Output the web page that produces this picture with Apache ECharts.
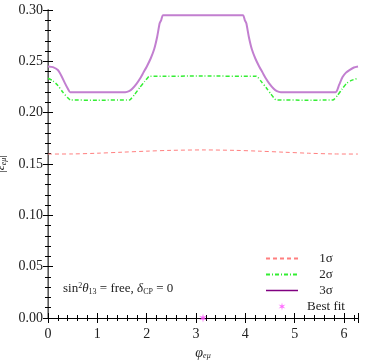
<!DOCTYPE html>
<html><head><meta charset="utf-8">
<script src="https://cdn.jsdelivr.net/npm/echarts@6/dist/echarts.min.js"></script>
<style>html,body{margin:0;padding:0;background:#fff}#c{width:382px;height:364px}</style>
</head><body><div id="c"></div>
<script>
// 1 sigma
const phi1 = [0, 0.5, 1.0, 1.5, 2.0, 2.5, 3.1416, 3.78, 4.28, 4.78, 5.28, 5.78, 6.2832];
const eps1 = [0.1597, 0.1598, 0.1605, 0.1615, 0.1625, 0.1633, 0.1637, 0.1633, 0.1625, 0.1615, 0.1605, 0.1598, 0.1597];
// 2 sigma
const phi2 = [0, 0.1, 0.2, 0.3, 0.4, 0.46, 1.0, 1.6, 1.66, 1.76, 1.86, 1.96, 2.03, 2.06, 3.14, 4.22, 4.25, 4.32, 4.42, 4.52, 4.62, 4.68, 5.2, 5.77, 5.87, 5.96, 6.05, 6.15, 6.2832];
const eps2 = [0.2335, 0.231, 0.2265, 0.220, 0.2145, 0.2123, 0.2122, 0.2123, 0.2125, 0.218, 0.2245, 0.2305, 0.2345, 0.2355, 0.2356, 0.2355, 0.2345, 0.2305, 0.2245, 0.218, 0.2125, 0.2123, 0.2122, 0.2123, 0.217, 0.223, 0.2285, 0.2315, 0.2335];
// 3 sigma
const phi3 = [0, 0.1, 0.2, 0.27, 0.34, 0.4, 0.45, 1.0, 1.563, 1.643, 1.713, 1.793, 1.863, 1.933, 2.003, 2.083, 2.153, 2.213, 2.263, 2.293, 2.333, 3.14, 3.95, 3.99, 4.02, 4.07, 4.13, 4.20, 4.28, 4.35, 4.42, 4.49, 4.57, 4.64, 4.72, 5.3, 5.83, 5.90, 5.97, 6.04, 6.11, 6.2, 6.2832];
const eps3 = [0.245, 0.2443, 0.2415, 0.236, 0.229, 0.2235, 0.220, 0.2198, 0.220, 0.221, 0.2235, 0.228, 0.233, 0.239, 0.245, 0.253, 0.262, 0.274, 0.287, 0.290, 0.295, 0.295, 0.295, 0.290, 0.287, 0.274, 0.262, 0.253, 0.245, 0.239, 0.233, 0.228, 0.2235, 0.221, 0.220, 0.2198, 0.220, 0.227, 0.2347, 0.239, 0.2415, 0.244, 0.245];
// best fit
const bestPhi = [3.1416];
const bestEps = [0.0];
const xTicks = [0, 1, 2, 3, 4, 5, 6];
const yTicks = ['0.00', '0.05', '0.10', '0.15', '0.20', '0.25', '0.30'];

const zip = (a, b) => a.map((v, i) => [v, b[i]]);
const star = 'path://M0 -10 L1.5 -2.6 L8.66 -5 L3 0 L8.66 5 L1.5 2.6 L0 10 L-1.5 2.6 L-8.66 5 L-3 0 L-8.66 -5 L-1.5 -2.6 Z';
const FONT = '"Liberation Serif", "DejaVu Serif", serif';
const TWO_PI = 2 * Math.PI;

const baseX = {
  type: 'value', min: 0, max: TWO_PI, interval: 1,
  axisLine: {show: true, lineStyle: {color: '#000', width: 1}},
  axisTick: {show: true, inside: true, length: 5, lineStyle: {color: '#000'}},
  minorTick: {show: true, splitNumber: 5, length: 3, lineStyle: {color: '#000'}},
  splitLine: {show: false}
};
const baseY = {
  type: 'value', min: 0, max: 0.3, interval: 0.05,
  axisLine: {show: true, lineStyle: {color: '#000', width: 1}},
  axisTick: {show: true, inside: true, length: 5, lineStyle: {color: '#000'}},
  minorTick: {show: true, splitNumber: 5, length: 3, lineStyle: {color: '#000'}},
  splitLine: {show: false}
};

const chart = echarts.init(document.getElementById('c'), null, {renderer: 'canvas'});
chart.setOption({
  animation: false,
  backgroundColor: '#fff',
  grid: {left: 48, right: 24, top: 10, bottom: 46, containLabel: false, outerBoundsMode: 'none'},
  xAxis: [
    Object.assign({}, baseX, {
      position: 'bottom',
      axisLabel: {color: '#222', fontFamily: FONT, fontSize: 14, margin: 9,
        formatter: v => xTicks.indexOf(v) >= 0 ? String(v) : ''},
      name: '{i|φ}{s|eμ}', nameLocation: 'middle', nameGap: 28,
      nameTextStyle: {rich: {
        i: {fontFamily: FONT, fontStyle: 'italic', fontSize: 14, color: '#222'},
        s: {fontFamily: FONT, fontStyle: 'italic', fontSize: 8, color: '#222', verticalAlign: 'bottom', padding: [6, 0, 0, 0]}
      }}
    }),
    Object.assign({}, baseX, {position: 'top', axisLabel: {show: false}})
  ],
  yAxis: [
    Object.assign({}, baseY, {
      position: 'left',
      axisLabel: {color: '#222', fontFamily: FONT, fontSize: 14, margin: 5,
        formatter: v => { const s = v.toFixed(2); return yTicks.indexOf(s) >= 0 ? s : ''; }},
      name: '|{i|ε}{s|eμ}|', nameLocation: 'middle', nameGap: 34, nameRotate: 90,
      nameTextStyle: {fontFamily: FONT, fontSize: 13, color: '#222', rich: {
        i: {fontFamily: FONT, fontStyle: 'italic', fontSize: 13, color: '#222'},
        s: {fontFamily: FONT, fontStyle: 'italic', fontSize: 8, color: '#222', padding: [6, 0, 0, 0]}
      }}
    }),
    Object.assign({}, baseY, {position: 'right', axisLabel: {show: false},
      axisLine: {show: true, lineStyle: {color: '#777', width: 1.5}}})
  ],
  legend: {
    orient: 'vertical', left: 260, top: 247, itemWidth: 32, itemHeight: 8, itemGap: 3,
    textStyle: {fontFamily: FONT, fontSize: 13, color: '#222',
      rich: {a: {width: 46, align: 'center', fontFamily: FONT, fontSize: 13, color: '#222'}}},
    formatter: n => '{a|' + n + '}',
    data: [
      {name: '1σ', itemStyle: {opacity: 0}},
      {name: '2σ', itemStyle: {opacity: 0}},
      {name: '3σ', itemStyle: {opacity: 0}, lineStyle: {color: '#800080', width: 1.5}},
      {name: 'Best fit', icon: star}
    ]
  },
  series: [
    {name: '1σ', type: 'line', data: zip(phi1, eps1), symbol: 'none', smooth: 0.3,
      lineStyle: {color: '#ff7f7f', width: 1, type: [4, 3]}, itemStyle: {color: '#ff7f7f'}},
    {name: '2σ', type: 'line', data: zip(phi2, eps2), symbol: 'none', smooth: 0.2,
      lineStyle: {color: '#33ee33', width: 1.5, type: [4, 2, 1, 2]}, itemStyle: {color: '#33ee33'}},
    {name: '3σ', type: 'line', data: zip(phi3, eps3), symbol: 'none', smooth: 0.2,
      lineStyle: {color: '#c27fd0', width: 2}, itemStyle: {color: '#c27fd0'}},
    {name: 'Best fit', type: 'scatter', data: zip(bestPhi, bestEps), symbol: star, symbolSize: 9,
      symbolKeepAspect: true, clip: false, itemStyle: {color: '#ff44ff'}, z: 10}
  ],
  graphic: [{
    type: 'text', left: 63, top: 282,
    style: {
      text: 'sin{sp|2}{i|θ}{sb|13} = free, {i|δ}{sb|CP} = 0',
      font: '13px ' + FONT, fill: '#222',
      rich: {
        sp: {fontFamily: FONT, fontSize: 8, fill: '#222', padding: [0, 0, 6, 0]},
        i: {fontFamily: FONT, fontStyle: 'italic', fontSize: 13, fill: '#222'},
        sb: {fontFamily: FONT, fontSize: 8, fill: '#222', padding: [6, 0, 0, 0]}
      }
    }
  }]
});
</script></body></html>
